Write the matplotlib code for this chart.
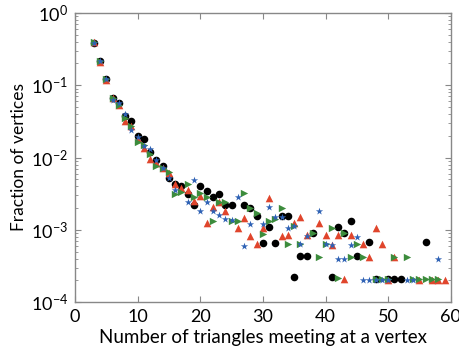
import numpy as np
import matplotlib
matplotlib.use("Agg")
import matplotlib.pyplot as plt
from matplotlib.ticker import LogLocator, FixedLocator, NullFormatter

plt.rcParams['font.family'] = ['Lato', 'DejaVu Sans']
plt.rcParams['mathtext.default'] = 'regular'

# log10 of fraction of vertices
black_x = [3, 4, 5, 6, 7, 8, 9, 10, 11, 12, 13, 14, 15, 16, 17, 18, 19, 20, 21, 22, 23, 24, 25,
           27, 28, 29, 30, 31, 32, 33, 34, 35, 36, 37, 38, 41, 42, 43, 44, 45, 47, 48, 50, 51, 52, 56]
black_y = [-0.41, -0.66, -0.91, -1.17, -1.25, -1.42, -1.50, -1.70, -1.75, -1.93, -2.03, -2.12, -2.29,
           -2.36, -2.39, -2.50, -2.66, -2.39, -2.47, -2.54, -2.50, -2.66, -2.66,
           -2.66, -2.70, -2.81, -3.18, -2.96, -3.18, -2.81, -2.81, -3.66, -3.36, -3.36, -3.05,
           -3.66, -2.96, -3.05, -2.88, -3.36, -3.17, -3.68, -3.68, -3.68, -3.68, -3.17]

blue_x = [3, 4, 5, 6, 7, 8, 9, 10, 11, 12, 13, 14, 15, 16, 18, 19, 20, 21, 22, 23, 24, 25, 26, 27,
          28, 30, 31, 32, 33, 34, 35, 36, 37, 39, 40, 41, 42, 43, 44, 45, 46, 47, 48, 49, 50,
          53, 54, 58]
blue_y = [-0.41, -0.66, -0.91, -1.20, -1.24, -1.40, -1.62, -1.72, -1.84, -1.88, -2.04, -2.15, -2.29,
          -2.45, -2.61, -2.31, -2.74, -2.61, -2.74, -2.80, -2.85, -2.86, -2.54, -3.22,
          -2.92, -2.92, -2.69, -2.83, -2.83, -2.97, -2.95, -3.20, -3.09, -2.74, -3.19, -3.21,
          -3.40, -3.40, -3.21, -3.10, -3.69, -3.69, -3.69, -3.69, -3.69, -3.69, -3.69, -3.40]

red_x = [3, 4, 5, 6, 7, 8, 9, 10, 11, 12, 13, 14, 15, 16, 17, 18, 19, 20, 21, 22, 23, 24, 26, 27,
         28, 29, 30, 31, 33, 34, 35, 36, 37, 39, 40, 41, 42, 43, 44, 46, 47, 48, 49, 50, 51,
         55, 57, 58, 59]
red_y = [-0.40, -0.68, -0.93, -1.18, -1.27, -1.49, -1.56, -1.74, -1.87, -2.02, -2.08, -2.14, -2.22,
         -2.36, -2.42, -2.45, -2.60, -2.53, -2.90, -2.68, -2.62, -2.74, -2.98, -2.84,
         -3.09, -3.20, -2.97, -2.56, -3.09, -3.07, -2.90, -2.83, -3.07, -2.90, -3.07, -3.21,
         -3.07, -3.68, -3.07, -3.20, -3.38, -2.98, -3.20, -3.69, -3.37, -3.69, -3.69, -3.69, -3.69]

green_x = [3, 4, 5, 6, 7, 8, 9, 10, 11, 12, 13, 14, 15, 16, 17, 18, 19, 20, 21, 22, 23, 24, 25, 26,
           27, 28, 29, 30, 31, 32, 33, 34, 35, 36, 38, 39, 40, 41, 42, 43, 44, 45, 46, 48, 49,
           50, 51, 53, 54, 55, 56, 57, 58]
green_y = [-0.40, -0.66, -0.91, -1.17, -1.27, -1.45, -1.57, -1.78, -1.83, -1.95, -2.12, -2.14, -2.20,
           -2.51, -2.48, -2.37, -2.55, -2.49, -2.55, -2.88, -2.61, -2.62, -2.88, -2.88,
           -2.49, -2.70, -2.77, -3.06, -2.88, -2.85, -2.70, -3.19, -2.95, -3.20, -3.05, -3.37,
           -3.19, -2.97, -3.67, -3.05, -3.37, -3.20, -3.37, -3.68, -3.68, -3.68, -3.37, -3.37,
           -3.68, -3.68, -3.68, -3.68, -3.68]

fig = plt.figure(figsize=(4.6, 3.6), dpi=100)
ax = fig.add_axes([0.163, 0.161, 0.817, 0.803])

ax.scatter(black_x, 10 ** np.array(black_y), marker='o', s=30, color='black', linewidths=0, zorder=3)
ax.scatter(red_x, 10 ** np.array(red_y), marker='^', s=30, color='#e0452c', linewidths=0, zorder=3)
ax.scatter(green_x, 10 ** np.array(green_y), marker='>', s=28, color='#3c8c3c', linewidths=0, zorder=3)
ax.scatter(blue_x, 10 ** np.array(blue_y), marker='*', s=30, color='#2f62b5', linewidths=0, zorder=3)

ax.set_yscale('log')
ax.set_xlim(0, 60)
ax.set_ylim(1e-4, 1)
ax.xaxis.set_major_locator(FixedLocator([0, 10, 20, 30, 40, 50, 60]))
ax.yaxis.set_major_locator(FixedLocator([1e-4, 1e-3, 1e-2, 1e-1, 1]))
ax.set_yticklabels(['$10^{-4}$', '$10^{-3}$', '$10^{-2}$', '$10^{-1}$', '$10^{0}$'])
ax.yaxis.set_minor_locator(LogLocator(base=10, subs=np.arange(2, 10), numticks=20))
ax.yaxis.set_minor_formatter(NullFormatter())

ax.tick_params(which='both', direction='in', top=True, right=True, color='#888888',
               labelsize=13, pad=5)
ax.tick_params(which='major', length=4)
ax.tick_params(which='minor', length=2.5)
for sp in ax.spines.values():
    sp.set_color('#888888')
    sp.set_linewidth(1.0)

ax.set_xlabel('Number of triangles meeting at a vertex', fontsize=13.5, labelpad=3)
ax.set_ylabel('Fraction of vertices', fontsize=12.5, labelpad=3)

fig.savefig('out.png', dpi=100)
